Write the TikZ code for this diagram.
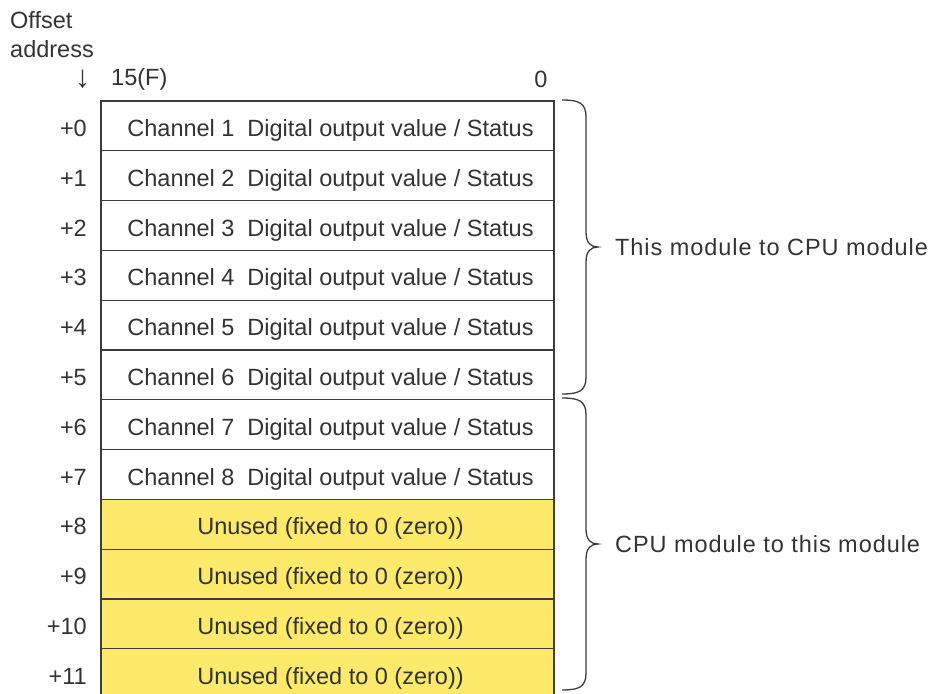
\documentclass[tikz,border=0pt]{standalone}
\usepackage{fontspec}
\setmainfont{Liberation Sans}
\usepackage{tikz}
\usetikzlibrary{positioning,calc}
\definecolor{inkgray}{HTML}{333333}
\definecolor{linegray}{HTML}{3C3C3C}
\definecolor{unusedfill}{HTML}{FDE96A}
\newcommand\regfont{\fontsize{23.5pt}{28pt}\selectfont}
\tikzset{
  % Register cells
  cell/.style={draw=linegray,line width=1.1pt,fill=white,minimum width=453pt,
               minimum height=49.8pt,inner sep=0pt,outer sep=0pt,anchor=north west,
               text=inkgray,font=\regfont,text height=21pt,text depth=0pt},
  unused/.style={cell,fill=unusedfill},
  % Offset numbers and headings
  offs/.style={text=inkgray,font=\regfont,inner sep=0pt,anchor=east,
               text height=21pt,text depth=0pt},
  hd/.style={text=inkgray,font=\regfont,inner sep=0pt},
  % Braces and their labels
  brc/.style={draw=linegray,line width=1.3pt},
  side/.style={text=inkgray,font=\regfont\addfontfeatures{LetterSpace=4},
               inner sep=0pt,anchor=west}
}
% right brace from y=#2 to y=#3, tip stored as coordinate #1
\newcommand\rbrc[3]{%
  \pgfmathsetmacro\bm{(#2+#3)/2}
  \draw[brc] (562,#2) .. controls (579,#2) and (586,#2+3) .. (586,#2+17)
    -- (586,\bm-15) .. controls (586,\bm-4) and (591,\bm) .. (598,\bm)
    .. controls (591,\bm) and (586,\bm+4) .. (586,\bm+15)
    -- (586,#3-17) .. controls (586,#3-3) and (579,#3) .. (562,#3);
  \coordinate (#1) at (598,\bm);
}

\begin{document}
\begin{tikzpicture}[x=1pt,y=-1pt]
  \useasboundingbox (0,0) rectangle (931,693);

  % Column headings
  \node[hd,anchor=west] (hoff)  at (10,20.5) {Offset};
  \node[hd,anchor=west] (haddr) at (10,49.5) {address};
  \node[hd,font=\fontsize{31pt}{34pt}\selectfont] (harrow) at (82.5,79) {↓};
  \node[hd,anchor=west] (hmsb) at (111,79) {15(F)};
  \node[hd] (hlsb) at (541,79) {0};

  % Channel rows
  \foreach \i in {0,...,7}{
    \pgfmathtruncatemacro\ch{\i+1}
    \node[cell] (r\i) at (101,101+49.8*\i) {\hspace*{6pt}Channel \ch\hspace{0.55em}Digital output value / Status};
    \node[offs,left=14pt of r\i.west] (o\i) {+\i};
  }
  % Unused rows
  \foreach \i in {8,...,11}{
    \node[unused] (r\i) at (101,101+49.8*\i) {\hspace*{6pt}Unused (fixed to 0 (zero))};
    \node[offs,left=14pt of r\i.west] (o\i) {+\i};
  }

  % Direction braces
  \rbrc{b1}{100}{394}
  \rbrc{b2}{398}{690}
  \node[side,right=17pt of b1] (lout) {This module to CPU module};
  \node[side,right=17pt of b2] (lin)  {CPU module to this module};
\end{tikzpicture}
\end{document}
